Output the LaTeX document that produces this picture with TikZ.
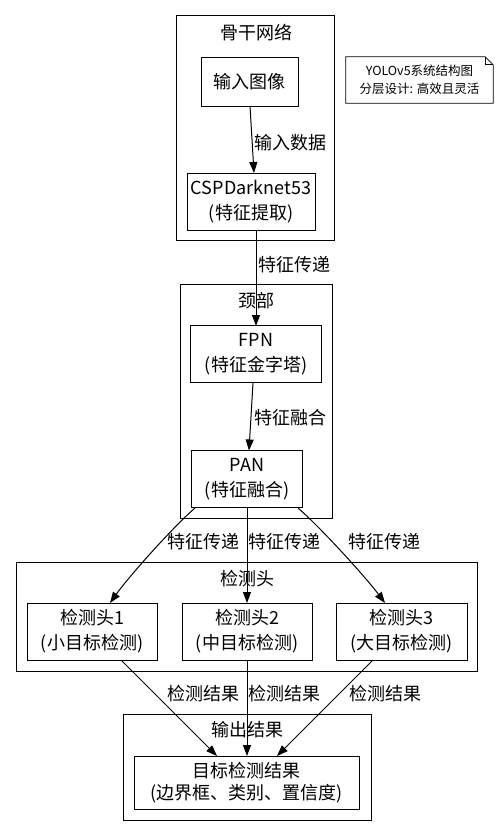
\documentclass[tikz,border=0pt]{standalone}
\usepackage{fontspec}
\setmainfont{Noto Sans CJK SC}
\usetikzlibrary{arrows.meta}
\begin{document}
\begin{tikzpicture}[x=1pt,y=-1pt,
  box/.style={draw, line width=1pt, inner sep=0pt, align=center, font=\fontsize{18}{25}\selectfont},
  cluster/.style={draw, line width=1pt, inner sep=0pt},
  lab/.style={inner sep=0pt, font=\fontsize{18}{25}\selectfont},
  arr/.style={line width=1pt, -{Triangle[length=11pt,width=8pt]}},
]
\useasboundingbox[fill=white] (0,0) rectangle (499,836);

% clusters
\node[cluster, minimum width=158pt, minimum height=225pt] (bb) at (255,127.5) {};
\node[lab] (bbl) at (256,33) {骨干网络};
\node[cluster, minimum width=152pt, minimum height=234pt] (neck) at (256.5,401) {};
\node[lab] (neckl) at (256,301) {颈部};
\node[cluster, minimum width=461pt, minimum height=109pt] (headc) at (246.5,616.5) {};
\node[lab] (headl) at (247,579) {检测头};
\node[cluster, minimum width=248pt, minimum height=106pt] (outc) at (247,767) {};
\node[lab] (outl) at (247,730) {输出结果};

% nodes
\node[box, minimum width=97pt, minimum height=49pt] (in) at (249.5,81.5) {输入图像};
\node[box, minimum width=128pt, minimum height=57pt] (csp) at (251,201.5) {CSPDarknet53\\(特征提取)};
\node[box, minimum width=131pt, minimum height=57pt] (fpn) at (256,354) {FPN\\(特征金字塔)};
\node[box, minimum width=111pt, minimum height=57pt] (pan) at (247,479) {PAN\\(特征融合)};
\node[box, minimum width=130pt, minimum height=57pt] (h1) at (92,631.5) {检测头1\\(小目标检测)};
\node[box, minimum width=130pt, minimum height=57pt] (h2) at (247,631.5) {检测头2\\(中目标检测)};
\node[box, minimum width=131pt, minimum height=57pt] (h3) at (401.5,631.5) {检测头3\\(大目标检测)};
\node[box, minimum width=225pt, minimum height=53pt, font=\fontsize{18}{22}\selectfont] (res) at (246.5,782.5) {目标检测结果\\(边界框、类别、置信度)};

% note
\node[inner sep=0pt, minimum width=147pt, minimum height=46pt, align=center, font=\fontsize{12.5}{18.5}\selectfont] (note) at (419.5,80) {YOLOv5系统结构图\\分层设计: 高效且灵活};
\draw[line width=0.8pt] (note.south west) -- (note.north west) -- ([xshift=-8pt]note.north east) -- ([yshift=-8pt]note.north east) -- (note.south east) -- cycle;
\draw[line width=0.8pt] ([xshift=-8pt]note.north east) -- ([xshift=-8pt,yshift=-8pt]note.north east) -- ([yshift=-8pt]note.north east);

% edges
\coordinate (inb) at (250,106);
\coordinate (cspt) at (254,173);
\draw[arr] (inb) -- (cspt);
\node[lab] (l1) at (290,143) {输入数据};

\coordinate (cspb) at (256,230);
\coordinate (fpnt) at (256,326);
\draw[arr] (cspb) -- (fpnt);
\node[lab] (l2) at (294.5,265) {特征传递};

\coordinate (fpnb) at (253,382.5);
\coordinate (pant) at (249,450.5);
\draw[arr] (fpnb) -- (pant);
\node[lab] (l3) at (290,418) {特征融合};

\coordinate (panbl) at (195,508);
\coordinate (panbm) at (247,508);
\coordinate (panbr) at (298,508);
\coordinate (h1t) at (110,603);
\coordinate (h2t) at (247,603);
\coordinate (h3t) at (385,603);
\draw[arr] (panbl) .. controls (175,525) and (130,575) .. (h1t);
\draw[arr] (panbm) -- (h2t);
\draw[arr] (panbr) .. controls (318,525) and (364,575) .. (h3t);
\node[lab] (l4) at (203.5,542) {特征传递};
\node[lab] (l5) at (284.5,542) {特征传递};
\node[lab] (l6) at (384.5,542) {特征传递};

\coordinate (h1b) at (121,660);
\coordinate (h2b) at (247,660);
\coordinate (h3b) at (373,660);
\coordinate (rest1) at (217,756);
\coordinate (rest2) at (247,756);
\coordinate (rest3) at (277,756);
\draw[arr] (h1b) -- (rest1);
\draw[arr] (h2b) -- (rest2);
\draw[arr] (h3b) -- (rest3);
\node[lab] (l7) at (203.5,694) {检测结果};
\node[lab] (l8) at (284.5,694) {检测结果};
\node[lab] (l9) at (385.5,694) {检测结果};
\end{tikzpicture}
\end{document}
